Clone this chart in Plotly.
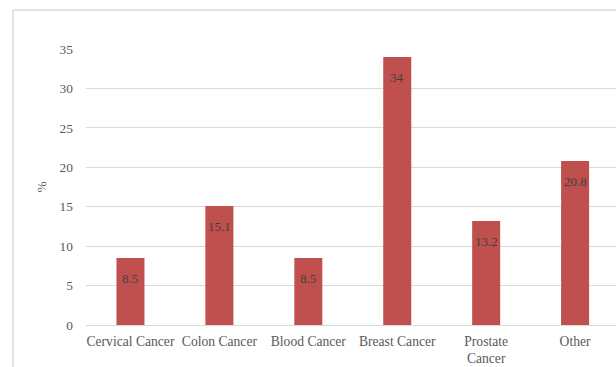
import plotly.graph_objects as go

categories = ["Cervical Cancer", "Colon Cancer", "Blood Cancer", "Breast Cancer", "Prostate<br>Cancer", "Other"]
values = [8.5, 15.1, 8.5, 34, 13.2, 20.8]
y_ticks = [0, 5, 10, 15, 20, 25, 30, 35]

BAR = "#c0504d"
GRID = "#d9d9d9"
TEXT = "#595959"
FONT = "Liberation Serif"

fig = go.Figure()
fig.add_trace(go.Bar(
    x=list(range(len(categories))),
    y=values,
    marker=dict(color=BAR, line=dict(width=0)),
    width=0.315,
    hoverinfo="skip",
))

# value labels just inside the top of each bar
for i, v in enumerate(values):
    fig.add_annotation(
        x=i, y=v, text=f"{v:g}", showarrow=False,
        yanchor="middle", yshift=-21,
        font=dict(family=FONT, size=13, color="#404040"),
    )

# light frame around the chart area
fig.add_shape(type="line", xref="paper", yref="paper",
              x0=-0.1377, x1=1.05, y0=1.1413, y1=1.1413,
              line=dict(color=GRID, width=1.5))
fig.add_shape(type="line", xref="paper", yref="paper",
              x0=-0.1377, x1=-0.1377, y0=1.1413, y1=-0.2,
              line=dict(color=GRID, width=1.5))

fig.update_layout(
    width=616, height=367,
    margin=dict(l=86, r=0, t=49, b=42),
    paper_bgcolor="white", plot_bgcolor="white",
    showlegend=False,
    font=dict(family=FONT, size=13, color=TEXT),
    xaxis=dict(
        range=[-0.5, 5.46],
        tickmode="array",
        tickvals=list(range(len(categories))),
        ticktext=categories,
        showgrid=False, zeroline=False,
        showline=False, ticks="",
        ticklabelstandoff=6,
        tickfont=dict(family=FONT, size=13.6, color=TEXT),
    ),
    yaxis=dict(
        range=[0, 35],
        tickvals=y_ticks,
        showgrid=True, gridcolor=GRID, gridwidth=1.3,
        zeroline=True, zerolinecolor=GRID, zerolinewidth=1.3,
        showline=False, ticks="",
        ticklabelstandoff=12,
        tickfont=dict(family=FONT, size=13.4, color=TEXT),
        title=dict(text="%", font=dict(family=FONT, size=13.4, color=TEXT), standoff=9),
    ),
)

fig.write_html("out.html")
